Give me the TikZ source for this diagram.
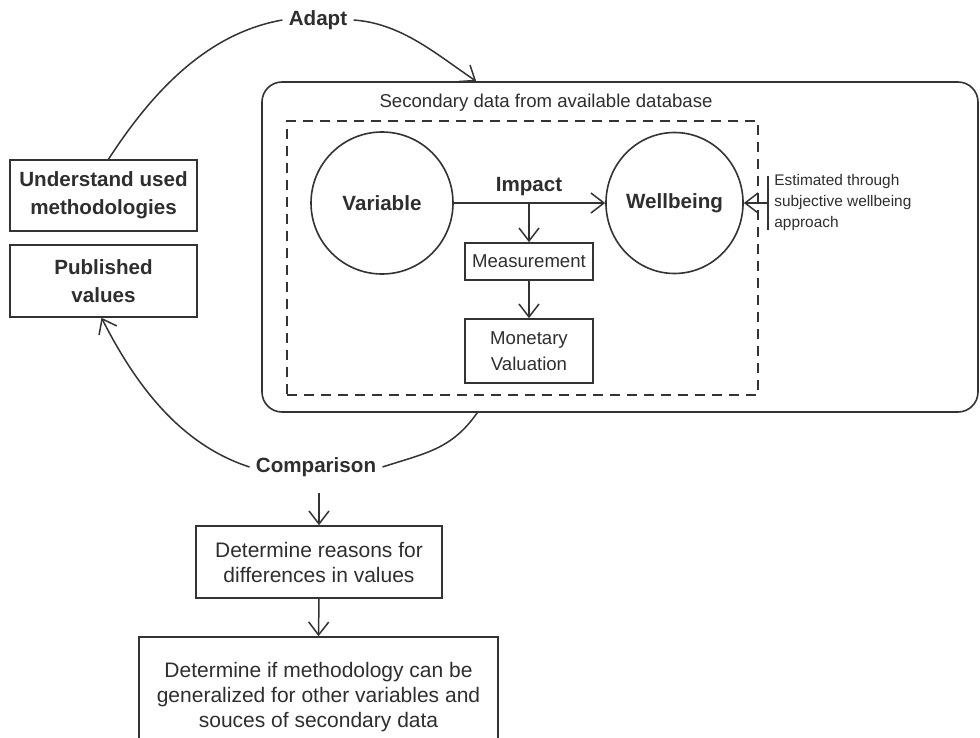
\documentclass[tikz,border=0pt]{standalone}
\usepackage{fontspec}
\setmainfont{Liberation Sans}
\usepackage{tikz}
\usetikzlibrary{arrows.meta, calc, positioning, shapes.geometric}
\definecolor{linegray}{HTML}{333333}
\definecolor{textgray}{HTML}{2E2E2E}
\tikzset{
	boxnode/.style={
			shape=rectangle,
			draw=linegray,
			line width=0.8pt,
			text=textgray,
			align=center,
			inner sep=0pt
		},
	circnode/.style={
			shape=circle,
			draw=linegray,
			line width=0.8pt,
			text=textgray,
			minimum size=71pt,
			inner sep=0pt,
			font=\fontsize{10.3}{14}\selectfont\bfseries
		},
	labelnode/.style={
			text=textgray,
			inner sep=3pt,
			font=\fontsize{10.3}{14}\selectfont\bfseries
		},
	dbnode/.style={
			shape=rectangle,
			rounded corners=10pt,
			draw=linegray,
			line width=0.8pt,
			minimum width=358pt,
			minimum height=165pt
		},
	dashnode/.style={
			shape=rectangle,
			draw=linegray,
			line width=0.7pt,
			dash pattern=on 5pt off 3.5pt,
			minimum width=235.5pt,
			minimum height=137pt
		}
}
\tikzset{
	boldtext/.style={font=\fontsize{10.3}{14}\selectfont\bfseries},
	innertext/.style={font=\fontsize{9.3}{13}\selectfont},
	lowtext/.style={font=\fontsize{10.5}{12.5}\selectfont},
	smalltext/.style={font=\fontsize{7.7}{10.5}\selectfont, text=textgray, align=left, inner sep=0pt},
	conn/.style={draw=linegray, line width=0.75pt},
	arr/.style={conn, -{Straight Barb[length=6.5pt,width=10pt]}}
}

\begin{document}
\begin{tikzpicture}[x=0.5pt, y=0.5pt]
	\useasboundingbox (0,0) rectangle (980,-738);

	\node[boxnode, boldtext, minimum width=93.5pt, minimum height=35.5pt] (und) at (103.5,-195.5) {Understand used\\methodologies};
	\node[boxnode, boldtext, minimum width=93.5pt, minimum height=36pt] (pub) at (103.5,-281) {Published\\values};

	\node[dbnode] (db) at (620,-247) {};
	\node[dashnode] (inner) at (522.5,-258) {};
	\node[innertext, text=textgray] (dblabel) at (546,-103) {Secondary data from available database};

	\node[circnode] (var) at (382,-203) {Variable};
	\node[circnode, shape=ellipse, minimum width=63.5pt, minimum height=70.5pt] (well) at (674.5,-203) {Wellbeing};

	\node[labelnode] (impact) at (529,-187) {Impact};
	\node[boxnode, innertext, minimum width=64pt, minimum height=18.5pt] (meas) at (529,-261.5) {Measurement};
	\node[boxnode, innertext, minimum width=64pt, minimum height=32pt] (mon) at (529,-351) {Monetary\\Valuation};
	\coordinate (imp) at (var.east -| meas.north);

	\coordinate (bar) at (768,-203);
	\node[smalltext, anchor=west] (est) at (774,-203) {Estimated through\\subjective wellbeing\\approach};

	\node[labelnode] (adapt) at (318,-20) {Adapt};
	\node[labelnode] (comp) at (316,-467) {Comparison};

	\node[boxnode, lowtext, minimum width=123pt, minimum height=36pt] (reasons) at (319,-562) {Determine reasons for\\differences in values};
	\node[boxnode, lowtext, minimum width=179.5pt, minimum height=60pt] (gen) at (318.5,-697) {Determine if methodology can be\\generalized for other variables and\\souces of secondary data};

	\coordinate (dbtop) at ($(db.north west)+(215,0)$);
	\coordinate (dbbot) at ($(db.south west)+(216,0)$);

	\draw[arr] (var.east) -- (well.west);
	\draw[arr] (imp) -- (meas.north);
	\draw[arr] (meas.south) -- (mon.north);
	\draw[conn] ([yshift=13.5pt]bar) -- ([yshift=-13.5pt]bar);
	\draw[arr] (bar) -- (well.east);

	\draw[conn] ([xshift=2.5pt]und.north) .. controls +(57:78) and +(190:78) .. (adapt.west);
	\draw[arr] (adapt.east) .. controls +(-4:48) and +(146:48) .. (dbtop);
	\draw[conn] (dbbot) .. controls +(235:45) and +(18:45) .. (comp.east);
	\draw[arr] (comp.west) .. controls +(162:74) and +(-63:74) .. ([xshift=-1pt]pub.south);

	\draw[arr, shorten <=5pt] (comp.south -| reasons.north) -- (reasons.north);
	\draw[arr] (reasons.south) -- (gen.north);
\end{tikzpicture}
\end{document}
